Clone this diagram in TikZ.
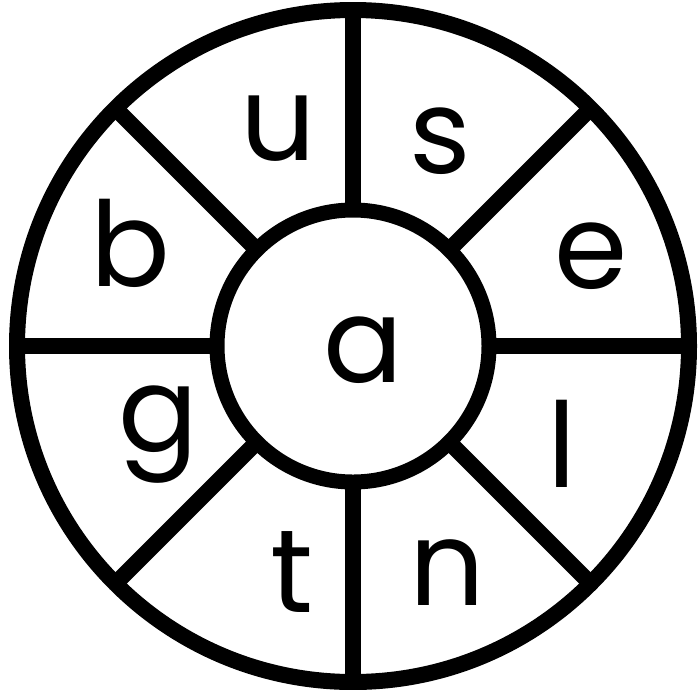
\documentclass[tikz,border=0pt]{standalone}
\usepackage{fontspec}
\setmainfont{Poppins}
\tikzstyle{wheel}=[circle,draw=black,line width=16pt,inner sep=0pt,outer sep=0pt]
\tikzstyle{spoke}=[line width=16pt]
\tikzstyle{letter}=[inner sep=0pt,font=\fontsize{118}{118}\selectfont]

\begin{document}
\begin{tikzpicture}[x=1pt,y=-1pt]
\useasboundingbox (0,0) rectangle (700,689);
\node[wheel,minimum size=672pt] (rim) at (353,346) {};
\node[wheel,minimum size=272pt,line width=15pt] (hub) at (353,346) {};
\foreach \ang in {0,45,...,315}
  \draw[spoke] (hub.\ang) -- (rim.\ang);
\node[letter] (a) at (363,350) {a};
\node[letter] (u) at (278,129) {u};
\node[letter] (s) at (440,141) {s};
\node[letter] (b) at (130,243) {b};
\node[letter] (e) at (591,256) {e};
\node[letter] (g) at (158,435) {g};
\node[letter] (l) at (562,444) {l};
\node[letter] (t) at (292,572) {t};
\node[letter] (n) at (447,573) {n};
\end{tikzpicture}
\end{document}
